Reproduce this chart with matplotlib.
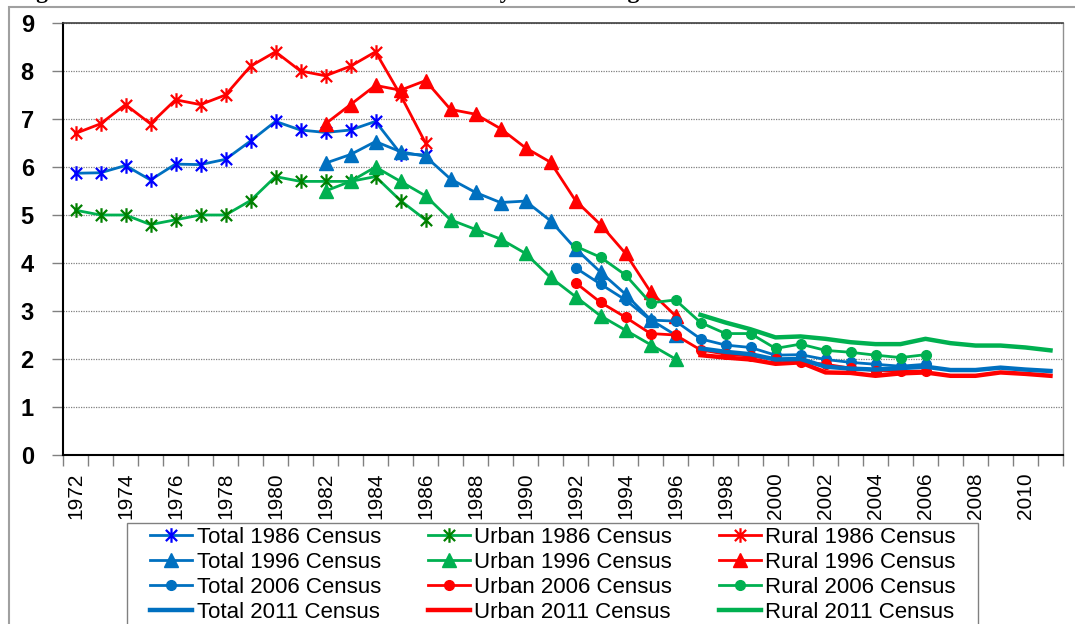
import matplotlib
matplotlib.use("Agg")
import matplotlib.pyplot as plt
from matplotlib.path import Path
from matplotlib.patches import Rectangle
import numpy as np

plt.rcParams['font.family'] = ['Liberation Sans', 'DejaVu Sans']

years = list(range(1972, 2012))
tick_labels = [str(y) for y in range(1972, 2012, 2)]

start_1986 = 1972
total_1986 = [5.87, 5.88, 6.03, 5.73, 6.06, 6.05, 6.16, 6.54, 6.95, 6.77, 6.72, 6.77, 6.95, 6.28, 6.25]
urban_1986 = [5.1, 5.0, 5.0, 4.8, 4.9, 5.0, 5.0, 5.3, 5.8, 5.7, 5.7, 5.7, 5.8, 5.3, 4.9]
rural_1986 = [6.7, 6.9, 7.3, 6.9, 7.4, 7.3, 7.5, 8.1, 8.4, 8.0, 7.9, 8.1, 8.4, 7.5, 6.5]

start_1996 = 1982
total_1996 = [6.08, 6.26, 6.53, 6.32, 6.22, 5.75, 5.47, 5.26, 5.29, 4.88, 4.30, 3.81, 3.35, 2.82, 2.50]
urban_1996 = [5.5, 5.7, 6.0, 5.7, 5.4, 4.9, 4.7, 4.5, 4.2, 3.7, 3.3, 2.9, 2.6, 2.3, 2.0]
rural_1996 = [6.9, 7.3, 7.7, 7.6, 7.8, 7.2, 7.1, 6.8, 6.4, 6.1, 5.3, 4.8, 4.2, 3.4, 2.9]

start_2006 = 1992
total_2006 = [3.90, 3.56, 3.23, 2.81, 2.79, 2.42, 2.29, 2.24, 2.08, 2.09, 1.99, 1.93, 1.89, 1.85, 1.89]
urban_2006 = [3.59, 3.18, 2.87, 2.53, 2.50, 2.19, 2.10, 2.06, 1.99, 1.94, 1.89, 1.81, 1.76, 1.74, 1.75]
rural_2006 = [4.35, 4.12, 3.75, 3.17, 3.23, 2.76, 2.53, 2.53, 2.22, 2.31, 2.18, 2.14, 2.08, 2.03, 2.09]

start_2011 = 1997
total_2011 = [2.22, 2.15, 2.10, 1.99, 2.00, 1.84, 1.80, 1.78, 1.81, 1.84, 1.77, 1.77, 1.82, 1.78, 1.75]
urban_2011 = [2.08, 2.03, 1.99, 1.90, 1.93, 1.72, 1.71, 1.65, 1.70, 1.72, 1.65, 1.65, 1.72, 1.69, 1.65]
rural_2011 = [2.92, 2.76, 2.62, 2.45, 2.47, 2.42, 2.35, 2.31, 2.31, 2.42, 2.33, 2.28, 2.28, 2.24, 2.18]

BLUE = '#0070C0'
GREEN = '#00B050'
RED = '#FF0000'

star = Path([(-1, -1), (1, 1), (-1, 1), (1, -1), (0, -1.3), (0, 1.3)],
            [Path.MOVETO, Path.LINETO, Path.MOVETO, Path.LINETO, Path.MOVETO, Path.LINETO])

fig = plt.figure(figsize=(10.75, 6.24), dpi=100)
ax = fig.add_axes([63/1075, 1-455/624, 1000/1075, 432/624])

def xs(start, vals):
    return [years.index(start) + i for i in range(len(vals))]

lines = {}
def plot(key, start, vals, color, **kw):
    l, = ax.plot(xs(start, vals), vals, color=color, solid_joinstyle='round', **kw)
    lines[key] = l

# 1986 census
plot('Total 1986 Census', start_1986, total_1986, BLUE, lw=2, marker=star, ms=10.5, mec='#0000FF', mew=1.6, mfc='none')
plot('Urban 1986 Census', start_1986, urban_1986, GREEN, lw=2, marker=star, ms=10.5, mec='#008000', mew=1.6, mfc='none')
plot('Rural 1986 Census', start_1986, rural_1986, RED, lw=2, marker=star, ms=10.5, mec=RED, mew=1.6, mfc='none')
# 1996 census
plot('Total 1996 Census', start_1996, total_1996, BLUE, lw=2, marker='^', ms=10, mec=BLUE, mfc=BLUE)
plot('Urban 1996 Census', start_1996, urban_1996, GREEN, lw=2, marker='^', ms=10, mec=GREEN, mfc=GREEN)
plot('Rural 1996 Census', start_1996, rural_1996, RED, lw=2, marker='^', ms=10, mec=RED, mfc=RED)
# 2006 census
plot('Total 2006 Census', start_2006, total_2006, BLUE, lw=2, marker='o', ms=7, mec=BLUE, mfc=BLUE)
plot('Urban 2006 Census', start_2006, urban_2006, RED, lw=2, marker='o', ms=7, mec=RED, mfc=RED)
plot('Rural 2006 Census', start_2006, rural_2006, GREEN, lw=2, marker='o', ms=7, mec=GREEN, mfc=GREEN)
# 2011 census
plot('Rural 2011 Census', start_2011, rural_2011, GREEN, lw=3.2)
plot('Urban 2011 Census', start_2011, urban_2011, RED, lw=3.2)
plot('Total 2011 Census', start_2011, total_2011, BLUE, lw=3.2)

ax.set_xlim(-0.5, len(years) - 0.5)
ax.set_ylim(0, 9)
ax.set_yticks(range(0, 10))
ax.set_yticklabels([str(v) for v in range(0, 10)], fontsize=17, fontweight='bold')
ax.grid(axis='y', color='#808080', linestyle=(0, (1, 1)), linewidth=0.9)
ax.set_axisbelow(True)

major = [years.index(int(t)) for t in tick_labels]
ax.set_xticks(major)
ax.set_xticklabels(tick_labels, rotation=90, fontsize=15)
ax.set_xticks(np.arange(-0.5, len(years), 1.0), minor=True)
ax.tick_params(axis='x', which='major', length=0, pad=12.5)
ax.tick_params(axis='x', which='minor', length=8, color='#808080', width=1)
ax.tick_params(axis='y', length=8, color='#808080', width=1, pad=13)

ax.spines['left'].set_color('black')
ax.spines['bottom'].set_color('black')
ax.spines['left'].set_linewidth(1.5)
ax.spines['bottom'].set_linewidth(1.5)
ax.spines['top'].set_color('#404040')
ax.spines['top'].set_linewidth(1.2)
ax.spines['right'].set_color('#909090')
ax.spines['right'].set_linewidth(1.0)

order = ['Total 1986 Census', 'Total 1996 Census', 'Total 2006 Census', 'Total 2011 Census',
         'Urban 1986 Census', 'Urban 1996 Census', 'Urban 2006 Census', 'Urban 2011 Census',
         'Rural 1986 Census', 'Rural 1996 Census', 'Rural 2006 Census', 'Rural 2011 Census']
# legend frame drawn separately (extends past the bottom edge, as in the reference)
fig.patches.append(Rectangle((127/1075, -0.05), 851/1075, (1-523/624) + 0.05,
                             transform=fig.transFigure, fill=True, facecolor='white',
                             edgecolor='#808080', linewidth=1.0, zorder=2))
leg = fig.legend([lines[k] for k in order], order, ncol=3, loc='upper left',
                 bbox_to_anchor=(150/1075, 1-527/624), borderaxespad=0,
                 fontsize=16, frameon=False,
                 handlelength=1.9, handletextpad=0.2, columnspacing=2.1,
                 labelspacing=0.18, borderpad=0)
leg.set_zorder(3)

# outer frame and clipped caption
fig.patches.append(Rectangle((9/1075, -0.1), 1.2, (1-7/624) + 0.1, transform=fig.transFigure,
                             fill=False, edgecolor='#a0a0a0', linewidth=1.5))
fig.text(15/1075, 1 + 2/624, 'Figure 3: CWR-Child Estimates of Total Fertility Rate during 1972-2011',
         family=['Liberation Serif'], fontweight='bold', fontsize=17, va='baseline', ha='left')

fig.savefig('out.png', dpi=100)
